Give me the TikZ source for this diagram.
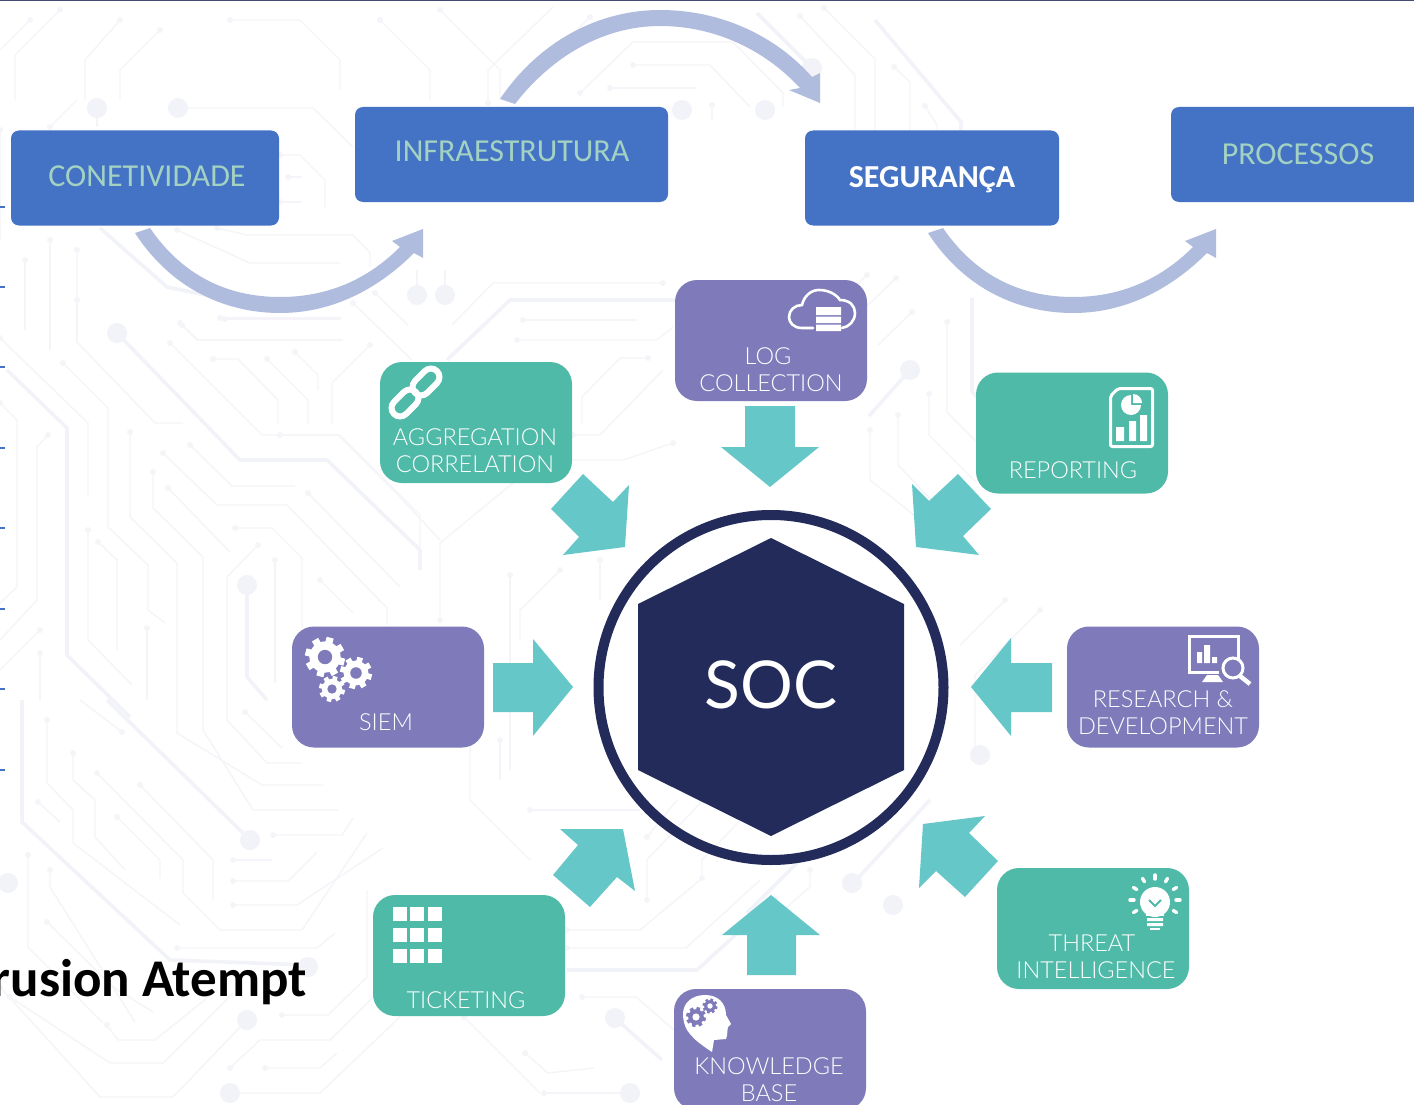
\documentclass[tikz,border=0pt]{standalone}
\usepackage{fontspec}
\setmainfont{Carlito}
\newfontfamily\lab{Lato Light}
\newfontfamily\labreg{Lato}
\definecolor{trc}{HTML}{F5F5F9}
\definecolor{trd}{HTML}{F2F3F8}
\definecolor{bluebox}{HTML}{4472C4}
\definecolor{greentxt}{HTML}{A3D2C2}
\definecolor{band}{HTML}{AFBCDD}
\definecolor{purp}{HTML}{7F7BBA}
\definecolor{gren}{HTML}{50BAA8}
\definecolor{teal2}{HTML}{66C7C9}
\definecolor{navy}{HTML}{222B59}
\tikzset{
  x=1pt,y=-1pt,
  topbox/.style={fill=bluebox,rounded corners=8pt,inner sep=0pt,minimum width=#1,minimum height=95pt},
  card/.style={rounded corners=22pt,inner sep=0pt,minimum width=192pt,minimum height=121pt},
  toptext/.style={font=\fontsize{32}{32}\selectfont,text=greentxt,inner sep=0pt},
  cardtext/.style={font=\lab\fontsize{23.5}{27}\selectfont,text=white,inner sep=0pt,align=center},
  blockarrow/.style={fill=teal2},
  curvearrow/.style={fill=band},
  trace/.style={draw=trc,line width=1.4pt,line join=round},
  thicktrace/.style={draw=trd,line width=3.6pt,line join=round},
  iconline/.style={draw=white,line width=2.6pt},
  iconfill/.style={fill=white}
}
\newcommand\trl[1]{\draw[trace] plot[mark=*,mark indices={1},mark size=2.2,mark options={fill=trc,draw=trc}] coordinates {#1};}
\newcommand\trt[1]{\draw[thicktrace] plot coordinates {#1};}
\newcommand\trdot[2]{\fill[trd] (#1,#2) circle[radius=10];}
\newcommand\gearicon[5]{%
  \fill[#4] (#1,#2) circle[radius=0.78*#3];
  \foreach \ga in {0,45,...,315}{\draw[#4,line width=#3*0.36pt] (#1,#2) ++(\ga+15:{0.65*#3}) -- ++(\ga+15:{0.35*#3});}
  \fill[#5] (#1,#2) circle[radius=0.36*#3];}
\begin{document}
\begin{tikzpicture}
\clip (0,0) rectangle (1414,1105);
\fill[white] (0,0) rectangle (1414,1105);
% ---------- faint circuit background ----------
\trl{(170,343)(262,435)(338,435)(400,497)(440,540)}
\trl{(182,325)(198,340)(343,340)}
\trl{(225,319)(340,319)}
\trl{(213,359)(238,359)(278,400)(278,423)}
\trl{(267,359)(308,400)(308,423)}
\trl{(295,352)(318,375)(318,390)}
\trl{(370,345)(332,383)(332,423)}
\trl{(77,250)(77,342)(155,423)(183,423)}
\trl{(0,338)(88,423)(88,497)}
\trl{(63,363)(108,408)(108,527)(148,565)(148,610)(165,623)}
\trl{(130,432)(130,517)(177,563)(177,733)(262,785)(323,785)}
\trl{(153,472)(153,508)(203,557)(203,730)(253,810)(338,810)}
\trl{(163,453)(217,505)(287,505)(387,608)(387,625)}
\trl{(190,445)(232,486)(295,486)}
\trl{(308,493)(400,587)}
\trl{(168,488)(230,552)}
\trl{(235,528)(272,528)(302,558)(302,627)}
\trl{(258,545)(227,577)(227,720)(267,763)(302,763)}
\trl{(275,560)(275,683)}
\trl{(320,580)(353,613)}
\trl{(48,435)(37,447)(37,600)(0,640)}
\trl{(0,403)(17,420)(17,587)(0,603)}
\trl{(40,630)(0,670)}
\trl{(88,530)(88,640)(132,685)}
\trl{(98,542)(117,560)(117,650)}
\trl{(147,628)(147,700)}
\trl{(40,653)(40,700)}
\trl{(47,720)(47,783)(73,810)(73,843)(180,925)}
\trl{(73,753)(73,780)(95,800)(95,837)(125,870)}
\trl{(97,773)(183,860)(183,893)(220,930)(302,930)(367,833)}
\trl{(140,785)(213,860)(213,900)}
\trl{(117,817)(160,860)(160,878)}
\trl{(38,802)(60,822)}
\trl{(122,732)(80,700)}
\trl{(245,712)(282,748)}
\trl{(273,835)(342,835)(353,818)}
\trl{(233,860)(272,860)}
\trl{(233,881)(288,881)(317,852)}
\trl{(233,905)(297,905)(383,848)}
\trl{(28,855)(28,947)(103,1023)}
\trl{(50,870)(50,887)(135,1022)}
\trl{(47,922)(113,987)(153,1012)}
\trl{(177,948)(317,948)(335,933)}
\trl{(107,1025)(118,1040)(155,1040)(217,990)}
\trl{(10,997)(110,1063)(163,1063)(233,993)}
\trl{(230,1068)(260,1040)(330,1040)(390,980)}
\trl{(265,1068)(320,1068)(337,1053)}
\trl{(230,1093)(320,1093)(400,1017)}
\trl{(282,1015)(328,1015)(367,977)(367,890)}
\trl{(0,987)(100,1097)(173,1097)(247,1020)}
% upper-left
\trl{(178,108)(313,108)(353,147)}
\trl{(97,108)(97,127)}
\trl{(50,127)(77,100)}
\trl{(288,177)(302,177)}
\trl{(280,202)(302,202)}
\trl{(280,155)(300,155)(325,180)(325,207)}
\trl{(177,230)(250,263)(340,263)}
\trl{(217,228)(247,235)(353,235)(370,253)(370,267)}
\trl{(220,318)(342,318)}
\trl{(180,323)(197,340)(343,340)}
\trl{(77,300)(77,343)}
\trl{(25,260)(25,330)}
\trl{(50,240)(50,350)}
\trl{(30,20)(0,50)}\trl{(60,10)(15,55)(15,100)}
\trl{(120,20)(85,60)(85,100)}\trl{(160,30)(120,70)(120,100)}
\trl{(230,20)(300,20)(340,60)(340,90)}\trl{(380,20)(430,70)(430,100)}
\trl{(0,130)(0,240)}
\trt{(100,228)(167,287)(230,300)}
\trt{(7,370)(67,428)(67,655)(130,717)}
\trt{(22,700)(22,822)(170,960)(310,965)}
\trt{(107,700)(243,833)}
\trt{(117,333)(240,460)(327,460)(420,550)(420,570)}
\trt{(247,585)(247,677)(267,700)}
\trdot{117}{333}\trdot{247}{585}\trdot{250}{840}\trdot{8}{883}\trdot{308}{967}\trdot{247}{1020}\trdot{230}{1093}\trdot{97}{108}\trdot{178}{108}
% upper centre
\trt{(675,300)(510,300)(447,360)}
\trl{(663,283)(493,283)(452,325)}
\trl{(523,320)(637,320)}
\trl{(517,340)(657,340)(673,327)}
\trl{(648,358)(620,358)(582,397)(582,423)}
\trl{(353,303)(412,360)}
\trl{(375,293)(408,325)}
\trl{(417,295)(417,270)}\trl{(445,295)(445,270)}
\trl{(280,435)(340,435)(420,515)(420,570)}
\trl{(440,620)(440,543)(513,483)}
\trl{(673,443)(623,460)(573,460)}
\trl{(573,435)(600,435)(663,370)}
\trdot{417}{295}\trdot{445}{295}
\trl{(488,103)(488,70)(553,7)}
\trl{(590,17)(533,73)}
\trl{(580,93)(633,42)(733,42)(783,93)(783,107)}
\trl{(633,65)(710,65)(750,107)}
\trl{(610,88)(697,88)}
\trl{(712,105)(712,120)}
\trdot{682}{110}\trdot{765}{110}\trdot{812}{68}
\trt{(757,13)(812,68)}
\trl{(440,10)(500,70)(500,100)}
% mid left-of-circle
\trl{(470,640)(470,800)(530,860)}
\trl{(510,575)(510,770)}
\trl{(560,570)(520,610)(520,640)}
\trl{(600,560)(600,600)}
\trl{(500,740)(500,780)}
% lower centre
\trt{(567,970)(697,970)(777,897)}
\trl{(567,948)(686,948)(760,880)}
\trl{(567,930)(640,930)(700,880)}
\trl{(582,997)(636,997)(674,1030)}
\trt{(615,1018)(662,1060)}
\trl{(525,1053)(548,1073)(594,1068)}
\trl{(544,1093)(624,1093)}
\trl{(464,1017)(540,1093)}
\trdot{615}{1018}\trdot{630}{1093}\trdot{852}{883}\trdot{893}{905}
\trt{(858,878)(930,800)}
\trl{(530,810)(607,810)(640,810)}
\trl{(647,837)(677,800)}
\trl{(647,900)(647,860)(703,800)}
\trl{(702,878)(702,860)(760,800)}
\trt{(747,913)(797,863)}
\trl{(810,870)(810,887)(780,913)}
% right of centre
\trt{(875,20)(961,122)(961,153)}
\trt{(972,298)(972,392)(1012,435)}
\trl{(800,16)(855,75)(855,137)}
\trl{(824,8)(875,59)(875,153)}
\trl{(894,67)(910,82)(910,153)}
\trl{(925,106)(937,125)(937,153)}
\trl{(867,275)(800,340)}
\trl{(896,278)(827,345)}
\trl{(912,312)(878,345)}
\trl{(947,322)(947,412)(1004,470)}
\trt{(910,370)(869,416)}\trdot{910}{370}
\trl{(929,394)(929,435)(976,482)}
\trl{(898,415)(898,465)(960,530)}
\trl{(870,430)(870,480)(920,520)}
\trl{(1040,610)(975,675)(975,750)}
\trl{(1005,600)(960,645)}
\trdot{980}{755}
% ---------- top rule and ticks ----------
\fill[navy!85] (0,0) rectangle (1414,1.2);
\foreach \ty in {207,287,367,448,528,609,689,770}{\draw[bluebox,line width=1.2pt] (0,\ty) -- (5,\ty);}
% ---------- curved arrows ----------
\begin{scope}[shift={(-793,0)}]
\fill[curvearrow] (928,233) .. controls (965,290) and (1020,313) .. (1073,313) .. controls (1130,313) and (1175,285) .. (1207,253) -- (1216,258) -- (1216,229) -- (1185,241) -- (1193,247) .. controls (1160,280) and (1120,297) .. (1073,297) .. controls (1020,297) and (975,275) .. (943,228) -- cycle;
\end{scope}
\fill[curvearrow] (928,233) .. controls (965,290) and (1020,313) .. (1073,313) .. controls (1130,313) and (1175,285) .. (1207,253) -- (1216,258) -- (1216,229) -- (1185,241) -- (1193,247) .. controls (1160,280) and (1120,297) .. (1073,297) .. controls (1020,297) and (975,275) .. (943,228) -- cycle;
\fill[curvearrow] (500,99) .. controls (540,40) and (600,10) .. (660,10) .. controls (720,10) and (775,35) .. (812,77) -- (820,73) -- (820,103) -- (789,90) -- (800,88) .. controls (765,50) and (715,26) .. (660,26) .. controls (605,26) and (553,55) .. (515,104) -- cycle;
% ---------- top boxes ----------
\node[topbox=268pt] (conet) at (145,178) {};
\node[topbox=313pt] (infra) at (511.5,154.5) {};
\node[topbox=254pt] (segur) at (932,178) {};
\node[topbox=260pt] (proc) at (1301,154.5) {};
\node[toptext] (conett) at (147,176.5) {CONETIVIDADE};
\node[toptext] (infrat) at (512,151.5) {INFRAESTRUTURA};
\node[toptext,text=white,font=\bfseries\fontsize{32}{32}\selectfont] (segurt) at (932,180) {SEGURANÇA};
\node[toptext] (proct) at (1298,154.5) {PROCESSOS};
% ---------- cards ----------
\node[card,fill=purp] (log) at (771,340.5) {};
\node[card,fill=gren] (agg) at (476,422.5) {};
\node[card,fill=gren] (rep) at (1072,433) {};
\node[card,fill=purp] (siem) at (388,687) {};
\node[card,fill=purp] (rd) at (1163,687) {};
\node[card,fill=gren] (tick) at (469,955.5) {};
\node[card,fill=gren] (threat) at (1093,928.5) {};
\node[card,fill=purp] (know) at (770,1049.5) {};
\node[cardtext] (logt) at (771,369.5) {\makebox[0pt]{\kern-6pt LOG}\\COLLECTION};
\node[cardtext] (aggt) at (475,450.5) {AGGREGATION\\CORRELATION};
\node[cardtext] (rept) at (1073,470) {REPORTING};
\node[cardtext] (siemt) at (386,722) {SIEM};
\node[cardtext] (rdt) at (1163,712.5) {RESEARCH \&\\DEVELOPMENT};
\node[cardtext] (threatt) at (1096,957) {\makebox[0pt]{\kern-8pt THREAT}\\INTELLIGENCE};
\node[cardtext] (tickt) at (466,1000) {TICKETING};
\node[cardtext] (knowt) at (769,1079.5) {KNOWLEDGE\\BASE};
% ---------- block arrows ----------
\fill[blockarrow] (745,406) -- (795,406) -- (795,447) -- (819,447) -- (770,487) -- (721,447) -- (745,447) -- cycle;
\fill[blockarrow] (493,663) -- (533,663) -- (533,639) -- (573,687) -- (533,736) -- (533,712) -- (493,712) -- cycle;
\fill[blockarrow] (1052,663) -- (1011,663) -- (1011,638) -- (971,687) -- (1011,736) -- (1011,712) -- (1052,712) -- cycle;
\fill[blockarrow] (747,975) -- (747,935) -- (722,935) -- (771,895) -- (820,935) -- (796,935) -- (796,975) -- cycle;
\fill[blockarrow] (583,474) -- (613,502) -- (629,485) -- (625,547) -- (563,555) -- (579,537) -- (551,509) -- cycle;
\fill[blockarrow] (958,474) -- (991,509) -- (963,536) -- (979,555) -- (916,547) -- (912,484) -- (929,501) -- cycle;
\fill[blockarrow] (560,829) -- (623,829) -- (635,891) -- (617,877) -- (590,907) -- (553,875) -- (578,845) -- cycle;
\fill[blockarrow] (985,816) -- (923,824) -- (919,888) -- (936,871) -- (965,897) -- (998,861) -- (969,833) -- cycle;
% ---------- SOC ----------
\draw[navy,line width=10pt] (771,687.5) circle[radius=172.5];
\fill[navy] (771,538) -- (904,604) -- (904,770) -- (771,836) -- (638,770) -- (638,604) -- cycle;
\node[text=white,font=\labreg\fontsize{66}{66}\selectfont,inner sep=0pt] (soc) at (771,685) {SOC};
% ---------- icons ----------
% chain
\node[draw=white,line width=6pt,rounded corners=8.5pt,minimum width=31pt,minimum height=17pt,inner sep=0pt,rotate=45] (chain1) at (426,382) {};
\node[draw=white,line width=6pt,rounded corners=8.5pt,minimum width=31pt,minimum height=17pt,inner sep=0pt,rotate=45] (chain2) at (405,403) {};
% gears
\gearicon{325}{657}{20}{white}{purp}
\gearicon{356}{673}{16}{white}{purp}
\gearicon{332}{689}{13}{white}{purp}
% cloud
\draw[iconline,line cap=round] (813,328) -- (802,328) .. controls (793,328) and (789,322) .. (789,317) .. controls (789,310) and (795,305) .. (802,305) .. controls (804,296) and (811,290) .. (819,290) .. controls (828,290) and (836,294) .. (840,300) .. controls (850,300) and (855,306) .. (855,313) .. controls (855,321) and (849,327) .. (842,328);
\fill[white] (816,307) rectangle (841,315) (816,316.5) rectangle (841,323) (816,324.5) rectangle (841,331);
% report
\draw[draw=white,line width=3pt,rounded corners=2pt] (1118,388.5) -- (1152.5,388.5) -- (1152.5,446.5) -- (1110.5,446.5) -- (1110.5,396) -- cycle;
\fill[white] (1131,405) -- (1131,395) arc[start angle=-90,end angle=-270,radius=10] -- (1131,415) arc[start angle=90,end angle=0,radius=10] -- cycle;
\fill[white] (1133,403) -- (1133,394) arc[start angle=-90,end angle=0,radius=9] -- cycle;
\fill[white] (1116,427) rectangle (1124,441) (1129,421) rectangle (1136,441) (1140,415) rectangle (1147,441);
% research
\draw[draw=white,line width=3pt] (1238.5,659) -- (1238.5,636.5) -- (1189.5,636.5) -- (1189.5,672.5) -- (1219,672.5);
\fill[white] (1197,652) rectangle (1202,663) (1204,645) rectangle (1210,663) (1212,657) rectangle (1217,663);
\fill[white] (1207,675) -- (1218,675) -- (1223,682) -- (1202,682) -- cycle;
\draw[draw=white,line width=3pt] (1233,668) circle[radius=10];
\draw[draw=white,line width=4.5pt] (1240,676) -- (1250,684);
% bulb
\fill[white] (1155,902) circle[radius=15];
\fill[white] (1146,912) rectangle (1164,916);
\fill[white] (1147,918) rectangle (1163,921) (1147,923) rectangle (1163,926);
\fill[white] (1150,928) rectangle (1160,929.5);
\draw[gren,line width=2pt] (1149,900) -- (1155,906) -- (1161,900);
\foreach \ra in {-180,-150,-120,-90,-60,-30,0,30,150}{\draw[draw=white,line width=3.4pt,line cap=round] (1155,900) ++(\ra:21) -- ++(\ra:4);}
% tickets
\foreach \cx in {393,410,428}{\foreach \cy in {907,928,949}{\fill[white] (\cx,\cy) rectangle ++(13.5,14);}}
% head
\fill[white] (712,1052) -- (714,1040) -- (726,1039) .. controls (728,1034) and (727,1030) .. (728,1027) -- (731,1024) -- (726,1015) .. controls (726,1003) and (718,995) .. (705,995) .. controls (692,995) and (683,1003) .. (683,1014) .. controls (683,1022) and (686,1030) .. (690,1034) .. controls (695,1040) and (700,1044) .. (712,1052) -- cycle;
\gearicon{696}{1017}{10}{purp}{white}
\gearicon{710}{1006}{7.5}{purp}{white}
% ---------- clipped caption ----------
\node[anchor=base east,inner sep=0pt,font=\bfseries\fontsize{53}{53}\selectfont,text=black] (caption) at (307,996) {rusion Atempt};
\end{tikzpicture}
\end{document}
